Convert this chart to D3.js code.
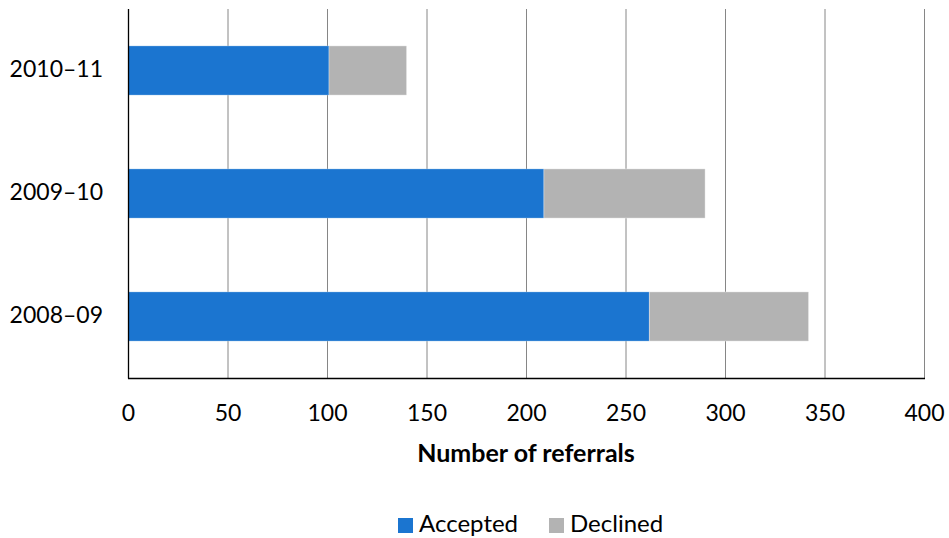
<!DOCTYPE html>
<html>
<head>
<meta charset="utf-8">
<script src="https://cdn.jsdelivr.net/npm/d3@7"></script>
<style>
  html, body { margin: 0; padding: 0; background: #fff; }
  svg { display: block; }
  text { font-family: Lato, "Open Sans", sans-serif; fill: #000; }
</style>
</head>
<body>
<svg id="chart" width="949" height="538"></svg>
<script>
const categories = ["2010–11", "2009–10", "2008–09"];
const accepted = [101, 209, 262];
const declined = [39, 81, 80];
const xTicks = [0, 50, 100, 150, 200, 250, 300, 350, 400];
const seriesNames = ["Accepted", "Declined"];
const colors = ["#1b75d0", "#b3b3b3"];

(function () {
const svg = d3.select("#chart");
const pLeft = 128, pRight = 924, pTop = 9, pBottom = 378;

const x = d3.scaleLinear().domain([0, 400]).range([pLeft, pRight]);
const y = d3.scaleBand().domain(categories).range([pTop, pBottom]).paddingInner(0.6).paddingOuter(0.3);

// gridlines
svg.append("g").selectAll("line").data(xTicks.filter(d => d > 0)).join("line")
  .attr("x1", d => x(d) + 0.5).attr("x2", d => x(d) + 0.5)
  .attr("y1", pTop).attr("y2", pBottom)
  .attr("stroke", "#868686").attr("stroke-width", 1);

// bars
const rows = categories.map((c, i) => ({ c, a: accepted[i], d: declined[i] }));
const g = svg.append("g");
g.selectAll("rect.acc").data(rows).join("rect").attr("class", "acc")
  .attr("x", x(0)).attr("y", d => y(d.c))
  .attr("width", d => x(d.a) - x(0)).attr("height", y.bandwidth())
  .attr("fill", colors[0]).attr("stroke", "rgba(255,255,255,0.25)").attr("stroke-width", 1);
g.selectAll("rect.dec").data(rows).join("rect").attr("class", "dec")
  .attr("x", d => x(d.a)).attr("y", d => y(d.c))
  .attr("width", d => x(d.a + d.d) - x(d.a)).attr("height", y.bandwidth())
  .attr("fill", colors[1]).attr("stroke", "rgba(255,255,255,0.35)").attr("stroke-width", 1);

// axes lines
svg.append("line").attr("x1", pLeft + 0.5).attr("x2", pLeft + 0.5).attr("y1", pTop).attr("y2", pBottom + 0.5)
  .attr("stroke", "#000").attr("stroke-width", 1.3);
svg.append("line").attr("x1", pLeft).attr("x2", pRight + 1).attr("y1", pBottom + 0.5).attr("y2", pBottom + 0.5)
  .attr("stroke", "#000").attr("stroke-width", 1.3);

// x tick labels
const xAxis = d3.axisBottom(x).tickValues(xTicks).tickSize(0).tickPadding(0).tickFormat(d3.format("d"));
const xg = svg.append("g").attr("transform", `translate(0,${pBottom})`).call(xAxis);
xg.select(".domain").remove();
xg.selectAll("text").attr("font-size", 23).attr("font-family", "Lato, sans-serif")
  .attr("fill", "#000").attr("dy", null).attr("y", 43);

// y labels
const yAxis = d3.axisLeft(y).tickSize(0).tickPadding(0);
const yg = svg.append("g").attr("transform", `translate(103,0)`).call(yAxis);
yg.select(".domain").remove();
yg.selectAll("text").attr("font-size", 23).attr("font-family", "Lato, sans-serif")
  .attr("fill", "#000").attr("dy", "0.3em").attr("x", 0);

// axis title
svg.append("text").attr("x", 526).attr("y", 462).attr("text-anchor", "middle")
  .attr("font-size", 25).attr("font-weight", "bold").text("Number of referrals");

// legend
const legendX = [398, 549];
seriesNames.forEach((n, i) => {
  svg.append("rect").attr("x", legendX[i]).attr("y", 518).attr("width", 15).attr("height", 15).attr("fill", colors[i]);
  svg.append("text").attr("x", legendX[i] + 21).attr("y", 532).attr("font-size", 24).text(n);
});
})();
</script>
</body>
</html>
